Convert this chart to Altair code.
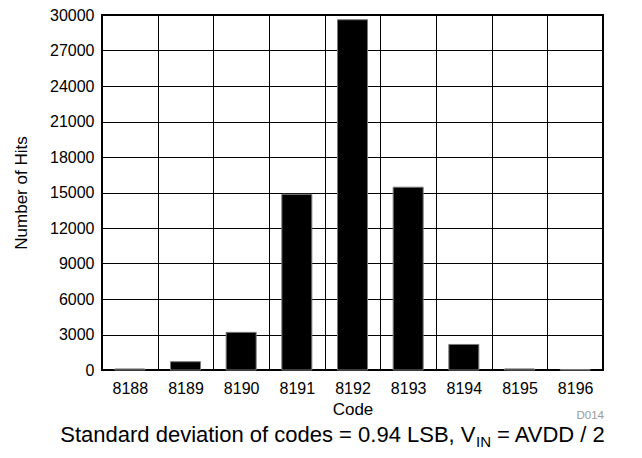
import altair as alt
import pandas as pd

codes = ["8188", "8189", "8190", "8191", "8192", "8193", "8194", "8195", "8196"]
hits = [90, 700, 3180, 14850, 29600, 15450, 2160, 90, 35]
y_ticks = [0, 3000, 6000, 9000, 12000, 15000, 18000, 21000, 24000, 27000, 30000]

caption_main = ["Standard deviation of codes = 0.94 LSB, V"]
caption_sub = ["IN"]
caption_tail = ["= AVDD / 2"]
fig_id = ["D014"]

FONT = "Liberation Sans"

df = pd.DataFrame({"code": codes, "hits": hits})

bars = alt.Chart(df).mark_bar(size=30, color="black", stroke="#7a7a7a", strokeWidth=1).encode(
    x=alt.X("code:N", sort=codes,
            scale=alt.Scale(paddingInner=0, paddingOuter=0),
            axis=alt.Axis(title="Code", labelAngle=0, ticks=False, tickBand="extent",
                          grid=True, domain=False, labelPadding=10, titlePadding=5,
                          labelFontSize=16, titleFontSize=17)),
    y=alt.Y("hits:Q", scale=alt.Scale(domain=[0, 30000], nice=False),
            axis=alt.Axis(title="Number of Hits", values=y_ticks, format="d", ticks=False,
                          grid=True, domain=False, labelPadding=8, titlePadding=19,
                          labelFontSize=16, titleFontSize=17)),
)

t1 = alt.Chart(pd.DataFrame({"t": caption_main})).mark_text(
    align="right", baseline="alphabetic", fontSize=22, font=FONT, color="black"
).encode(x=alt.value(373.5), y=alt.value(427), text="t:N")

t2 = alt.Chart(pd.DataFrame({"t": caption_sub})).mark_text(
    align="left", baseline="alphabetic", fontSize=15, font=FONT, color="black"
).encode(x=alt.value(374), y=alt.value(432), text="t:N")

t3 = alt.Chart(pd.DataFrame({"t": caption_tail})).mark_text(
    align="left", baseline="alphabetic", fontSize=22, font=FONT, color="black"
).encode(x=alt.value(395), y=alt.value(427), text="t:N")

t4 = alt.Chart(pd.DataFrame({"t": fig_id})).mark_text(
    align="right", baseline="alphabetic", fontSize=11.5, font=FONT, color="#9a9a9a"
).encode(x=alt.value(502), y=alt.value(404), text="t:N")

chart = alt.layer(bars, t1, t2, t3, t4).properties(
    width=501, height=355,
    autosize="none",
    padding={"left": 94, "top": 7, "right": 31, "bottom": 80},
).configure_view(
    stroke="black", strokeWidth=2
).configure_axis(
    gridColor="black", gridOpacity=1, gridWidth=1,
    labelFont=FONT, titleFont=FONT, labelColor="black", titleColor="black",
    titleFontWeight="normal"
)

chart.save("out.html", embed_options={"renderer": "svg", "actions": False})
